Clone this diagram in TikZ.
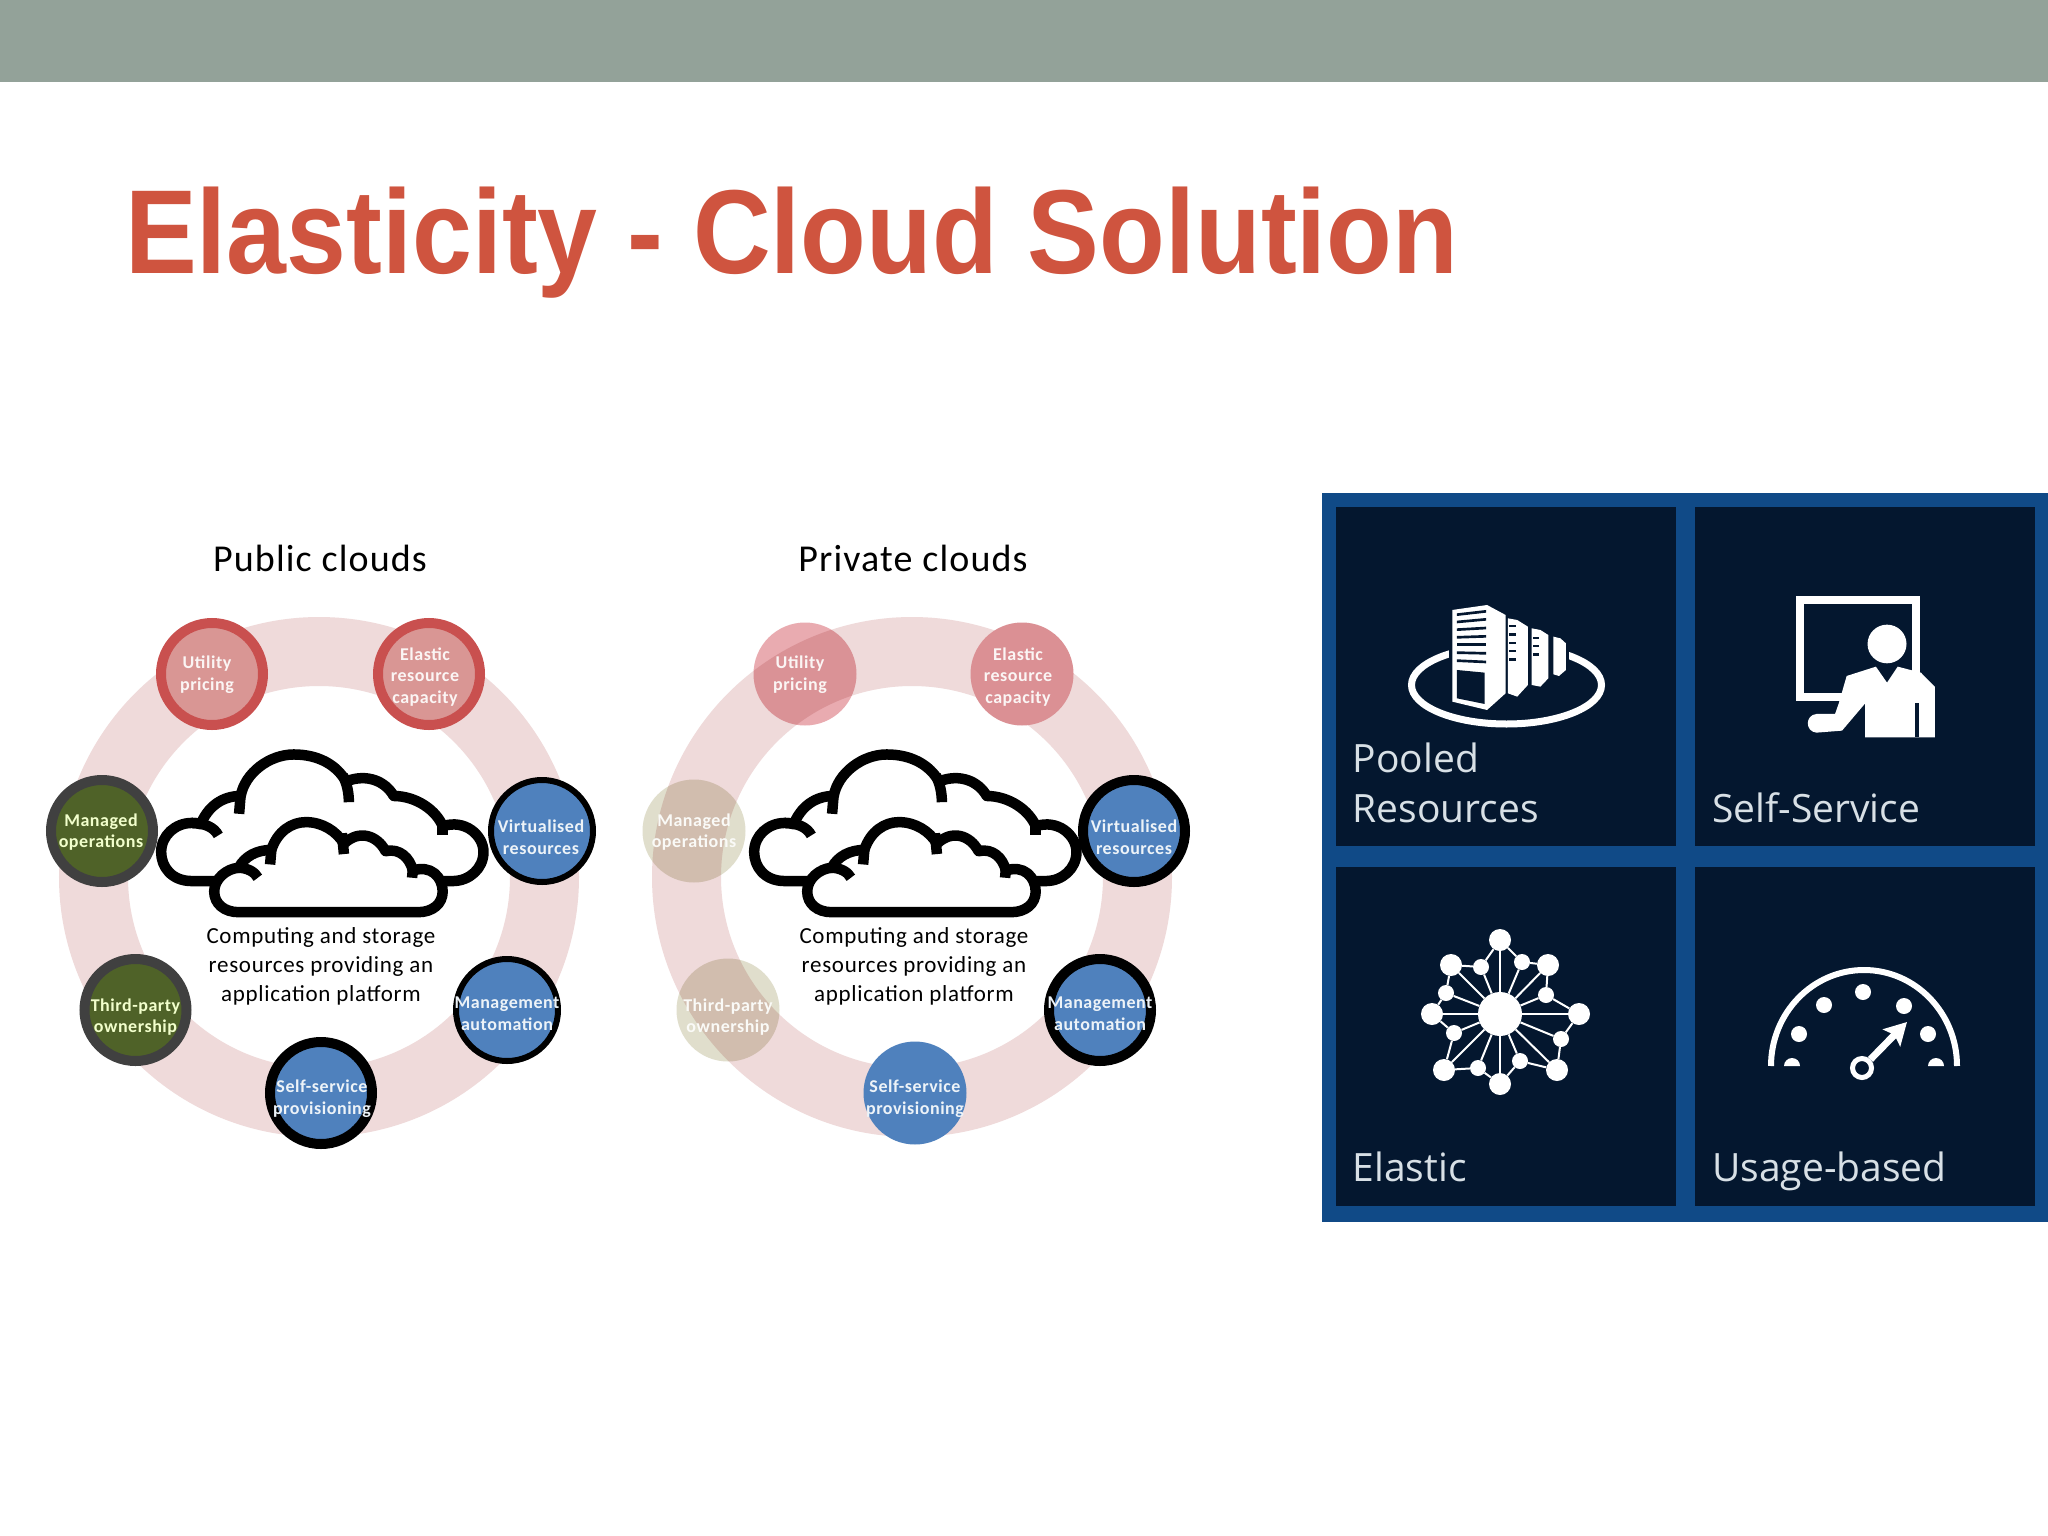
\documentclass[tikz,border=0pt]{standalone}
\usepackage{fontspec}
\setmainfont{Liberation Sans}
\newfontfamily\ringfont[LetterSpace=3]{Carlito}
\newfontfamily\tilefont{Open Sans}
\usetikzlibrary{positioning,arrows.meta}
\definecolor{bandgrey}{HTML}{93A299}
\definecolor{titlered}{HTML}{CF543F}
\definecolor{ringpink}{HTML}{EFDADA}
\definecolor{dotpink}{HTML}{D99694}
\definecolor{edgepink}{HTML}{C9504F}
\definecolor{dotgreen}{HTML}{4F6228}
\definecolor{edgegrey}{HTML}{404040}
\definecolor{dotblue}{HTML}{4F81BD}
\definecolor{dottan}{HTML}{E0DECC}
\definecolor{softrose}{HTML}{E9ABB0}
\definecolor{softelastic}{HTML}{DB9094}
\definecolor{panelblue}{HTML}{104A87}
\definecolor{tiledark}{HTML}{04172F}
\definecolor{tiletext}{HTML}{D8E0E6}
\tikzset{
  pinkdot/.style={circle,draw=edgepink,line width=10pt,fill=dotpink,minimum size=102pt,inner sep=0pt},
  greendot/.style={circle,draw=edgegrey,line width=10pt,fill=dotgreen,minimum size=102pt,inner sep=0pt},
  bluedot/.style={circle,draw=black,line width=6pt,fill=dotblue,minimum size=102pt,inner sep=0pt},
  heavydot/.style={circle,draw=black,line width=10pt,fill=dotblue,minimum size=102pt,inner sep=0pt},
  softdot/.style={circle,minimum size=103pt,inner sep=0pt},
  dottext/.style={align=center,font=\ringfont\bfseries\fontsize{18}{21.8}\selectfont,inner sep=0pt},
  plaintext/.style={align=center,font=\ringfont\fontsize{23}{29}\selectfont,inner sep=0pt},
  headtext/.style={font=\ringfont\fontsize{38}{42}\selectfont,inner sep=0pt},
  tilelabel/.style={anchor=base west,text=tiletext,font=\tilefont\fontsize{39}{50}\selectfont,inner sep=0pt},
  tilebox/.style={fill=tiledark,draw=none,minimum width=340pt,minimum height=339pt,inner sep=0pt},
  bignet/.style={circle,fill=white,minimum size=22pt,inner sep=0pt},
  smallnet/.style={circle,fill=white,minimum size=16pt,inner sep=0pt},
  gaugedot/.style={circle,fill=white,minimum size=16pt,inner sep=0pt},
  cloudline/.style={line width=10.5pt,line join=round}
}
% both clouds, typed in the coordinates of the left one
\newcommand{\twoclouds}{
  \draw[cloudline,fill=white] (530,870) -- (470,870) .. controls (420,870) and (395,835) .. (395,800)
    .. controls (395,760) and (430,730) .. (470,730) .. controls (478,730) and (485,731) .. (492,733)
    .. controls (510,690) and (545,665) .. (590,665) .. controls (600,610) and (660,565) .. (720,565)
    .. controls (780,565) and (825,590) .. (848,630) .. controls (900,610) and (945,630) .. (965,665)
    .. controls (1020,665) and (1070,700) .. (1085,738) .. controls (1140,720) and (1185,760) .. (1185,800)
    .. controls (1185,840) and (1150,870) .. (1110,870) -- cycle;
  \draw[cloudline] (470,730) .. controls (500,730) and (525,740) .. (535,760);
  \draw[cloudline] (590,660) -- (586,708);
  \draw[cloudline] (840,615) .. controls (850,635) and (855,655) .. (855,680);
  \draw[cloudline] (1085,735) -- (1085,760);
  \draw[cloudline,fill=white] (585,945) .. controls (550,945) and (525,925) .. (525,895)
    .. controls (525,865) and (555,840) .. (585,838) .. controls (600,810) and (630,795) .. (665,795)
    .. controls (680,750) and (715,728) .. (750,728) .. controls (790,728) and (825,750) .. (843,780)
    .. controls (880,745) and (925,760) .. (945,798) .. controls (980,790) and (1005,815) .. (1012,845)
    .. controls (1055,830) and (1085,860) .. (1085,895) .. controls (1085,925) and (1060,945) .. (1025,945) -- cycle;
  \draw[cloudline] (585,838) .. controls (605,838) and (625,848) .. (632,862);
  \draw[cloudline] (665,795) -- (662,830);
  \draw[cloudline] (838,755) -- (843,805);
  \draw[cloudline] (1012,840) -- (1010,862);
}
\begin{document}
\begin{tikzpicture}[x=1pt,y=-1pt,>=stealth]
\useasboundingbox (0,0) rectangle (2048,1536);
\fill[white] (0,0) rectangle (2048,1536);
\fill[bandgrey] (0,0) rectangle (2048,82);
\node[anchor=base west,inner sep=0pt,text=titlered,yscale=1.11,transform shape,font=\bfseries\fontsize{107.6}{120}\selectfont] (title) at (125,273) {Elasticity - Cloud Solution};

%Public clouds
\node[headtext] (publichead) at (320,558) {Public clouds};
\draw[ringpink,line width=69pt] (319,877) circle (225.5);
\begin{scope}[shift={(0,520)},x=0.408pt,y=-0.415pt]
  \twoclouds
\end{scope}
\node[plaintext] (publicnote) at (321,966) {Computing and storage\\resources providing an\\application platform};
\node[pinkdot] (pubutility) at (212,674) {};
\node[pinkdot] (pubelastic) at (429,674) {};
\node[greendot] (pubmanaged) at (102,831) {};
\node[bluedot] (pubvirtual) at (542,831) {};
\node[greendot] (pubthird) at (135.5,1010) {};
\node[bluedot] (pubmanagement) at (507,1010) {};
\node[heavydot] (pubself) at (321,1093) {};
\node[dottext,text=white!90!dotpink] at (207,675) {Utility\\pricing};
\node[dottext,text=white!90!dotpink] at (425,677) {Elastic\\resource\\capacity};
\node[dottext,text=white!80!lime] at (101,832) {Managed\\operations};
\node[dottext,text=white!90!dotblue] at (541,837) {Virtualised\\resources};
\node[dottext,text=white!80!lime] at (135.5,1017) {Third-party\\ownership};
\node[dottext,text=white!90!dotblue] at (507,1014) {Management\\automation};
\node[dottext,text=white!90!dotblue] at (322,1099) {Self-service\\provisioning};

%Private clouds
\node[headtext] (privatehead) at (913,558) {Private clouds};
\draw[ringpink,line width=69pt] (912,877) circle (225.5);
\begin{scope}[shift={(593,520)},x=0.408pt,y=-0.415pt]
  \twoclouds
\end{scope}
\node[plaintext] (privatenote) at (914,966) {Computing and storage\\resources providing an\\application platform};
\node[softdot,fill=softrose,blend mode=multiply] (priutility) at (805,674) {};
\node[softdot,fill=softelastic] (prielastic) at (1022,674) {};
\node[softdot,fill=dottan,blend mode=multiply] (primanaged) at (694,831) {};
\node[heavydot] (privirtual) at (1134,831) {};
\node[softdot,fill=dottan,blend mode=multiply] (prithird) at (728,1010) {};
\node[heavydot] (primanagement) at (1100,1010) {};
\node[softdot,fill=dotblue] (priself) at (915,1093) {};
\node[dottext,text=white!90!dotpink] at (800,675) {Utility\\pricing};
\node[dottext,text=white!90!dotpink] at (1018,677) {Elastic\\resource\\capacity};
\node[dottext,text=white!85!dottan] at (694,832) {Managed\\operations};
\node[dottext,text=white!90!dotblue] at (1134,837) {Virtualised\\resources};
\node[dottext,text=white!85!dottan] at (728,1017) {Third-party\\ownership};
\node[dottext,text=white!90!dotblue] at (1100,1014) {Management\\automation};
\node[dottext,text=white!90!dotblue] at (915,1099) {Self-service\\provisioning};

%Tiles
\fill[panelblue] (1322,493) rectangle (2048,1222);
\node[tilebox,anchor=north west] (tilepooled) at (1336,507) {};
\node[tilebox,anchor=north west] (tileself) at (1695,507) {};
\node[tilebox,anchor=north west] (tileelastic) at (1336,867) {};
\node[tilebox,anchor=north west] (tileusage) at (1695,867) {};
\node[tilelabel] at (1352.5,772) {Pooled};
\node[tilelabel] at (1352.5,822) {Resources};
\node[tilelabel] at (1712,822) {Self-Service};
\node[tilelabel] at (1352.5,1181) {Elastic};
\node[tilelabel] at (1712,1181) {Usage-based};

%Pooled icon
\draw[white,line width=7pt] (1506.5,685) ellipse (95 and 39);
\begin{scope}[shift={(1320,490)},x=0.464pt,y=-0.3333pt]
  \fill[tiledark] (278,340) rectangle (536,640);
  \fill[white] (285,360) -- (360,345) -- (400,375) -- (400,610) -- (360,660) -- (285,635) -- cycle;
  \fill[tiledark] (295,540) -- (355,548) -- (355,642) -- (295,625) -- cycle;
  \fill[tiledark] (295,370) -- (358,360) -- (358,368) -- (295,378) -- cycle;
  \fill[tiledark] (295,392) -- (358,384) -- (358,392) -- (295,400) -- cycle;
  \fill[tiledark] (295,415) -- (358,410) -- (358,418) -- (295,423) -- cycle;
  \fill[tiledark] (295,438) -- (358,435) -- (358,443) -- (295,446) -- cycle;
  \fill[tiledark] (295,460) -- (358,460) -- (358,468) -- (295,468) -- cycle;
  \fill[tiledark] (295,484) -- (358,486) -- (358,494) -- (295,492) -- cycle;
  \fill[tiledark] (295,508) -- (358,512) -- (358,520) -- (295,516) -- cycle;
  \fill[white] (405,385) -- (425,390) -- (448,410) -- (448,585) -- (425,620) -- (405,610) -- cycle;
  \fill[tiledark] (407,405) rectangle (422,412);
  \fill[tiledark] (407,430) rectangle (422,437);
  \fill[tiledark] (407,455) rectangle (422,462);
  \fill[tiledark] (407,480) rectangle (422,487);
  \fill[tiledark] (407,505) rectangle (422,512);
  \fill[white] (456,415) -- (475,420) -- (492,435) -- (492,565) -- (475,590) -- (456,585) -- cycle;
  \fill[tiledark] (458,440) rectangle (472,447);
  \fill[tiledark] (458,465) rectangle (472,472);
  \fill[tiledark] (458,490) rectangle (472,497);
  \fill[white] (503,440) -- (518,445) -- (530,460) -- (530,540) -- (515,558) -- (503,553) -- cycle;
\end{scope}

%Self-service icon
\begin{scope}[shift={(1320,490)},x=0.464pt,y=-0.3333pt]
  \draw[white,line width=8pt] (1130,622) -- (1035,622) -- (1035,330) -- (1285,330) -- (1285,560);
  \fill[white] (1222,462) ellipse (42 and 58);
  \fill[white] (1222,578) -- (1198,530) -- (1135,558) -- (1118,640) -- (1110,672) -- (1070,672)
    .. controls (1045,675) and (1045,725) .. (1070,728) -- (1125,722) -- (1175,640) -- (1175,742)
    -- (1325,742) -- (1325,590) -- (1295,548) -- (1245,530) -- cycle;
  \fill[tiledark] (1283,640) rectangle (1290,742);
\end{scope}

%Elastic icon
\node[circle,fill=white,minimum size=44pt,inner sep=0pt] (hub) at (1500,1014) {};
\node[bignet] (ntop) at (1500,940) {};
\node[bignet] (nul) at (1451,965) {};
\node[bignet] (nur) at (1548,965) {};
\node[bignet] (nl) at (1432,1014) {};
\node[bignet] (nr) at (1579,1014) {};
\node[bignet] (nll) at (1444,1070) {};
\node[bignet] (nlr) at (1557,1070) {};
\node[bignet] (nb) at (1500,1084) {};
\node[smallnet] (sa) at (1481,967) {};
\node[smallnet] (sb) at (1522,962) {};
\node[smallnet] (sc) at (1546,995) {};
\node[smallnet] (sd) at (1561,1039) {};
\node[smallnet] (se) at (1520,1061) {};
\node[smallnet] (sf) at (1478,1068) {};
\node[smallnet] (sg) at (1454,1033) {};
\node[smallnet] (sh) at (1446,993) {};
\draw[white,line width=2pt] (ntop) -- (sb) -- (nur) -- (sc) -- (nr) -- (sd) -- (nlr) -- (se) -- (nb) -- (sf) -- (nll) -- (sg) -- (nl) -- (sh) -- (nul) -- (sa) -- (ntop);
\draw[white,line width=2pt] (hub) -- (ntop);
\draw[white,line width=2pt] (hub) -- (nul);
\draw[white,line width=2pt] (hub) -- (nur);
\draw[white,line width=2pt] (hub) -- (nl);
\draw[white,line width=2pt] (hub) -- (nr);
\draw[white,line width=2pt] (hub) -- (nll);
\draw[white,line width=2pt] (hub) -- (nlr);
\draw[white,line width=2pt] (hub) -- (nb);
\draw[white,line width=2pt] (hub) -- (sa);
\draw[white,line width=2pt] (hub) -- (sb);
\draw[white,line width=2pt] (hub) -- (sc);
\draw[white,line width=2pt] (hub) -- (sd);
\draw[white,line width=2pt] (hub) -- (se);
\draw[white,line width=2pt] (hub) -- (sf);
\draw[white,line width=2pt] (hub) -- (sg);
\draw[white,line width=2pt] (hub) -- (sh);

%Usage gauge
\draw[white,line width=6pt] (1771,1066) arc (180:360:93 and 96);
\node[gaugedot] (ga) at (1799,1034) {};
\node[gaugedot] (gb) at (1824,1005) {};
\node[gaugedot] (gc) at (1863,992) {};
\node[gaugedot] (gd) at (1904,1006) {};
\node[gaugedot] (ge) at (1928,1034) {};
\fill[white] (1784,1066) arc (180:360:8);
\fill[white] (1928,1066) arc (180:360:8);
\node[circle,draw=white,line width=5pt,fill=tiledark,minimum size=19pt,inner sep=0pt] (gaugering) at (1862,1068) {};
\coordinate (gaugetip) at (1907,1022);
\draw[-{Stealth[length=22pt,width=24pt,inset=4pt]},white,line width=7pt] (gaugering) -- (gaugetip);
\end{tikzpicture}
\end{document}
